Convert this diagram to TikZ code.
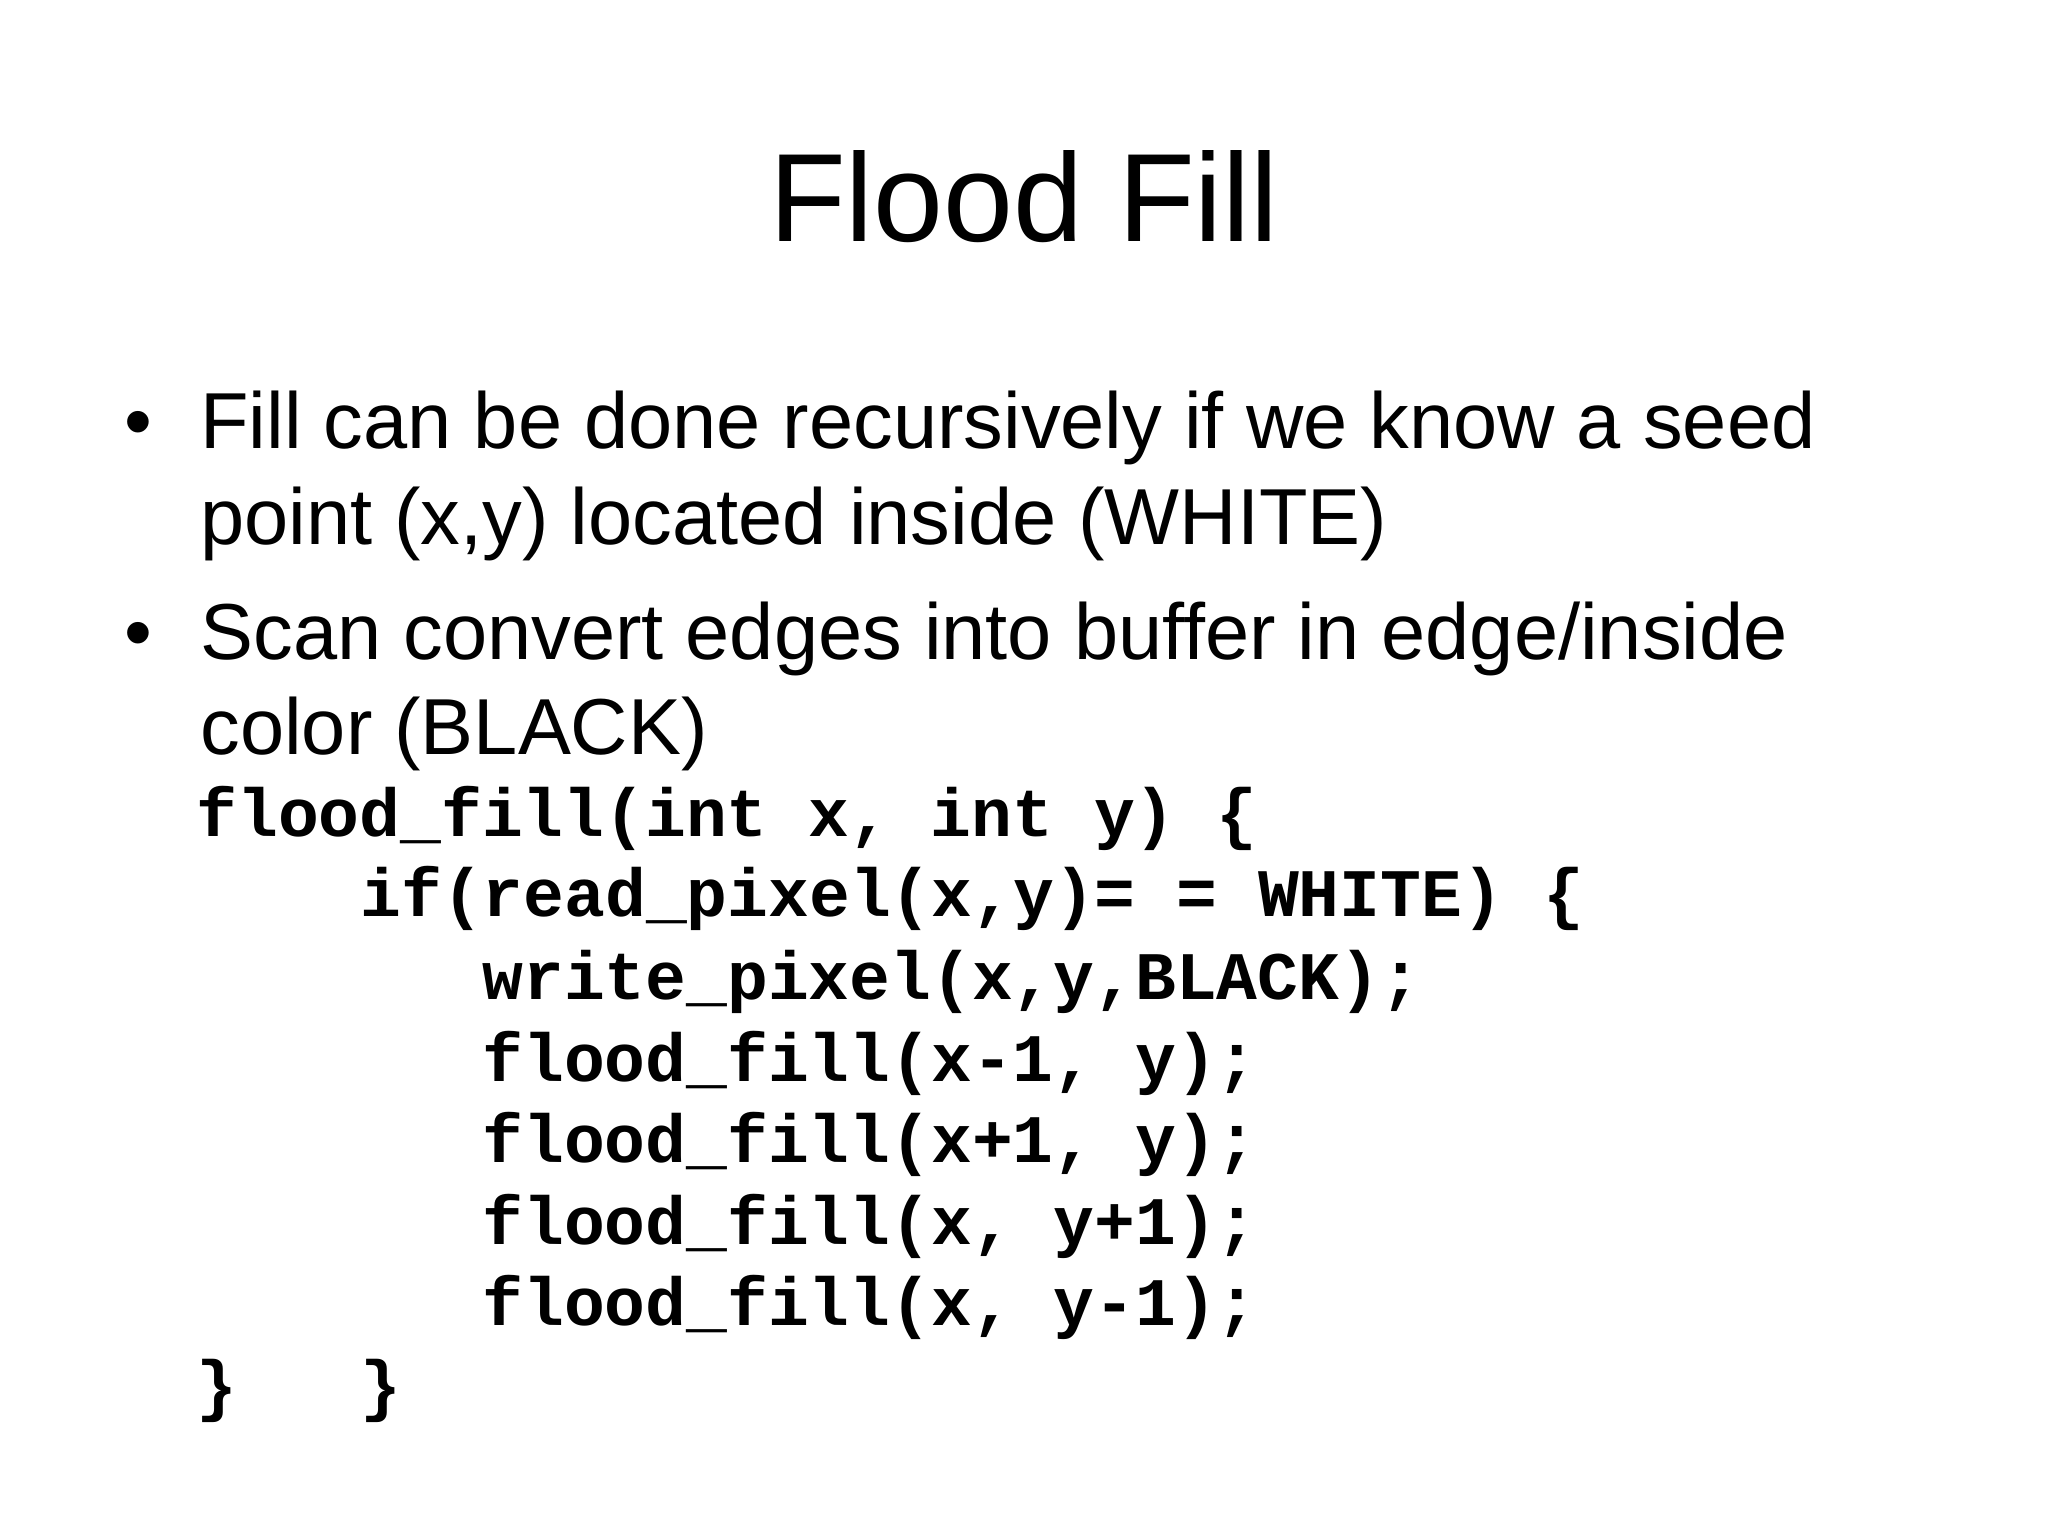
\documentclass[tikz,border=0pt]{standalone}
\usepackage{fontspec}
\setmainfont{Liberation Sans}
\setmonofont{Liberation Mono}
\begin{document}
\begin{tikzpicture}[x=1pt,y=1pt,
  body/.style={anchor=base west,inner sep=0pt,font=\fontsize{39.7}{46}\selectfont},
  code/.style={anchor=base west,inner sep=0pt,font=\fontsize{34}{40}\ttfamily\bfseries}]
\useasboundingbox[fill=white] (0,0) rectangle (1024,-768);
\node[anchor=base,inner sep=0pt,font=\fontsize{62.8}{74}\selectfont] (title) at (512,-120.8) {Flood Fill};
\node[body] (b1) at (62,-224) {\textbullet};
\node[body] (l1) at (100,-224) {Fill can be done recursively if we know a seed};
\node[body] (l2) at (100,-272.3) {point (x,y) located inside (WHITE)};
\node[body] (b2) at (62,-329.8) {\textbullet};
\node[body] (l3) at (100,-329.8) {Scan convert edges into buffer in edge/inside};
\node[body] (l4) at (100,-377.4) {color (BLACK)};
\node[code] (c1) at (98,-418) {flood\_fill(int x, int y) \{};
\node[code] (c2) at (180,-458.4) {if(read\_pixel(x,y)= = WHITE) \{};
\node[code] (c3) at (241,-499.5) {write\_pixel(x,y,BLACK);};
\node[code] (c4) at (241,-540.7) {flood\_fill(x-1, y);};
\node[code] (c5) at (241,-581) {flood\_fill(x+1, y);};
\node[code] (c6) at (241,-622.3) {flood\_fill(x, y+1);};
\node[code] (c7) at (241,-662.8) {flood\_fill(x, y-1);};
\node[code] (c8) at (98,-704) {\}};
\node[code] (c9) at (180,-704) {\}};
\end{tikzpicture}
\end{document}
